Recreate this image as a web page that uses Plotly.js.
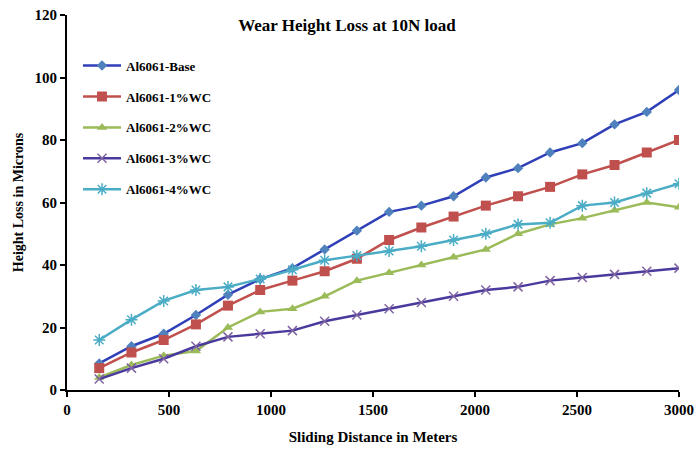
<!DOCTYPE html>
<html>
<head>
<meta charset="utf-8">
<script src="https://cdn.plot.ly/plotly-3.0.1.min.js"></script>
<style>html,body{margin:0;padding:0;background:#fff;}#chart{width:698px;height:453px;}</style>
</head>
<body>
<div id="chart"></div>
<script>
const distance = [158, 316, 474, 632, 789, 947, 1105, 1263, 1421, 1579, 1737, 1895, 2053, 2211, 2368, 2526, 2684, 2842, 3000];
const seriesNames = ["Al6061-Base", "Al6061-1%WC", "Al6061-2%WC", "Al6061-3%WC", "Al6061-4%WC"];
const base   = [8.5, 14, 18, 24, 30.5, 35.5, 39, 45, 51, 57, 59, 62, 68, 71, 76, 79, 85, 89, 96];
const wc1    = [7, 12, 16, 21, 27, 32, 35, 38, 42, 48, 52, 55.5, 59, 62, 65, 69, 72, 76, 80];
const wc2    = [4, 8, 11, 12.5, 20, 25, 26, 30, 35, 37.5, 40, 42.5, 45, 50, 53, 55, 57.5, 60, 58.5];
const wc3    = [3.5, 7, 10, 14, 17, 18, 19, 22, 24, 26, 28, 30, 32, 33, 35, 36, 37, 38, 39];
const wc4    = [16, 22.5, 28.5, 32, 33, 35.5, 38.5, 41.5, 43, 44.5, 46, 48, 50, 53, 53.5, 59, 60, 63, 66];
const xTicks = [0, 500, 1000, 1500, 2000, 2500, 3000];
const yTicks = [0, 20, 40, 60, 80, 100, 120];

const values = [base, wc1, wc2, wc3, wc4];
const lineColors = ["#2F3FB8", "#C0504D", "#9BBB59", "#4A3A9E", "#4BACC6"];
const markerColors = ["#4F81BD", "#C0504D", "#9BBB59", "#8064A2", "#4BACC6"];
const symbols = ["diamond", "square", "triangle-up", "x-thin-open", "asterisk-open"];
const sizes = [8, 10, 9, 9, 10];

const serif = "Liberation Serif, Times New Roman, serif";
const traces = values.map((v, i) => ({
  type: "scatter",
  mode: "lines+markers",
  name: seriesNames[i],
  legendgroup: "g" + i,
  x: distance,
  y: v,
  line: {color: lineColors[i], width: 2.5},
  marker: {symbol: symbols[i], size: sizes[i], color: markerColors[i],
           line: {color: markerColors[i], width: (i >= 3 ? 1.5 : 0)}}
}));

const layout = {
  width: 698, height: 453,
  margin: {l: 67, r: 19, t: 15, b: 63},
  paper_bgcolor: "#fff", plot_bgcolor: "#fff",
  font: {family: serif, color: "#000", size: 12},
  title: {text: "<b>Wear Height Loss at 10N load</b>", x: 0.497, xref: "container",
          y: 0.945, yref: "container", yanchor: "middle",
          font: {family: serif, size: 17, color: "#000"}},
  showlegend: true,
  legend: {x: 0.018, y: 0.905, xanchor: "left", yanchor: "top", traceorder: "grouped",
           tracegroupgap: 11, itemwidth: 38, bgcolor: "rgba(255,255,255,0)",
           font: {family: serif, size: 13, color: "#000", weight: "bold"}},
  xaxis: {range: [0, 3000], tickvals: xTicks, ticktext: xTicks.map(t => "<b>" + t + "</b>"),
          showgrid: false, zeroline: false, showline: true, linecolor: "#000", linewidth: 2,
          ticks: "outside", ticklen: 5, tickwidth: 2, tickcolor: "#000",
          tickfont: {family: serif, size: 15, color: "#000"},
          title: {text: "<b>Sliding Distance in Meters</b>", standoff: 14,
                  font: {family: serif, size: 15, color: "#000"}}},
  yaxis: {range: [0, 120], tickvals: yTicks, ticktext: yTicks.map(t => "<b>" + t + "</b>"),
          showgrid: false, zeroline: false, showline: true, linecolor: "#000", linewidth: 2,
          ticks: "outside", ticklen: 5, tickwidth: 2, tickcolor: "#000",
          tickfont: {family: serif, size: 15, color: "#000"},
          title: {text: "<b>Height Loss in Microns</b>", standoff: 8,
                  font: {family: serif, size: 14, color: "#000"}}}
};

Plotly.newPlot("chart", traces, layout, {staticPlot: true, displayModeBar: false});
</script>
</body>
</html>
